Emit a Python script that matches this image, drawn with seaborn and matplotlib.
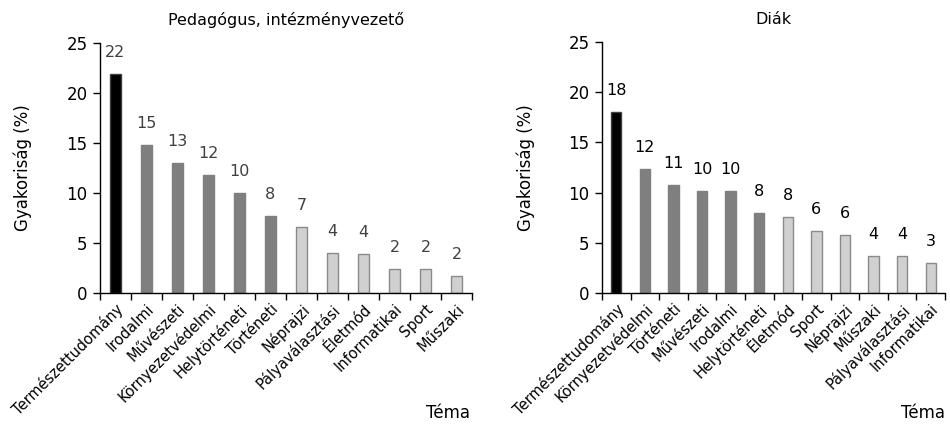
import matplotlib
matplotlib.use("Agg")
import matplotlib.pyplot as plt
import seaborn as sns
import pandas as pd
import numpy as np
from matplotlib.ticker import FixedLocator

sns.set_theme(style="white")
plt.rcParams["font.family"] = ["DejaVu Sans"]
plt.rcParams["text.color"] = "black"
plt.rcParams["axes.labelcolor"] = "black"
plt.rcParams["xtick.color"] = "black"
plt.rcParams["ytick.color"] = "black"

# Teacher / head-of-institution responses
ped_topics = ["Természettudomány", "Irodalmi", "Művészeti", "Környezetvédelmi",
              "Helytörténeti", "Történeti", "Néprajzi", "Pályaválasztási",
              "Életmód", "Informatikai", "Sport", "Műszaki"]
ped_values = [21.9, 14.8, 13.0, 11.8, 10.0, 7.7, 6.6, 4.0, 3.9, 2.4, 2.4, 1.7]
ped_labels = ["22", "15", "13", "12", "10", "8", "7", "4", "4", "2", "2", "2"]
ped_group = [0, 1, 1, 1, 1, 1, 2, 2, 2, 2, 2, 2]

# Student responses
diak_topics = ["Természettudomány", "Környezetvédelmi", "Történeti", "Művészeti",
               "Irodalmi", "Helytörténeti", "Életmód", "Sport", "Néprajzi",
               "Műszaki", "Pályaválasztási", "Informatikai"]
diak_values = [18.0, 12.4, 10.8, 10.2, 10.2, 8.0, 7.6, 6.2, 5.8, 3.7, 3.7, 3.0]
diak_labels = ["18", "12", "11", "10", "10", "8", "8", "6", "6", "4", "4", "3"]
diak_group = [0, 1, 1, 1, 1, 1, 2, 2, 2, 2, 2, 2]

fills = ["#000000", "#7f7f7f", "#d0d0d0"]
edges = ["#404040", "#7f7f7f", "#8a8a8a"]

W, H = 950, 424
fig = plt.figure(figsize=(W / 100, H / 100), dpi=100)


def panel(rect, topics, values, labels, groups, title, label_color, ylab_x, tema_x):
    ax = fig.add_axes(rect)
    df = pd.DataFrame({"topic": topics, "value": values})
    pal = [fills[g] for g in groups]
    sns.barplot(data=df, x="topic", y="value", hue="topic", palette=pal,
                legend=False, width=0.36, ax=ax, saturation=1)
    for patch, g in zip(ax.patches, groups):
        patch.set_edgecolor(edges[g])
        patch.set_linewidth(1.0)
    for i, (v, lab) in enumerate(zip(values, labels)):
        ax.annotate(lab, (i, v), xytext=(0, 10), textcoords="offset points",
                    ha="center", va="bottom", fontsize=11.5, color=label_color)
    ax.set_ylim(0, 25)
    ax.set_xlim(-0.5, len(topics) - 0.5)
    ax.set_yticks([0, 5, 10, 15, 20, 25])
    ax.tick_params(axis="y", labelsize=12, direction="out", length=5,
                   width=1, color="black", labelcolor="black", left=True, pad=4)
    ax.set_xticks(range(len(topics)))
    ax.set_xticklabels(topics, rotation=45, ha="right", rotation_mode="anchor",
                       fontsize=10.5, color="black")
    ax.tick_params(axis="x", which="major", length=0, pad=6)
    ax.xaxis.set_minor_locator(FixedLocator(np.arange(-0.5, len(topics), 1.0)))
    ax.tick_params(axis="x", which="minor", direction="out", length=5,
                   width=1, color="black", bottom=True)
    for s in ["top", "right"]:
        ax.spines[s].set_visible(False)
    for s in ["left", "bottom"]:
        ax.spines[s].set_color("black")
        ax.spines[s].set_linewidth(1)
    ax.set_xlabel("")
    ax.set_ylabel("Gyakoriság (%)", fontsize=12, color="black")
    ax.yaxis.set_label_coords(ylab_x, 0.5)
    ax.set_title(title, fontsize=11.5, pad=13, color="black")
    fig.text(tema_x / W, 1 - 413 / H, "Téma", ha="right", va="center",
             fontsize=12, color="black")
    return ax


panel([100 / W, 131 / H, 372 / W, 250 / H], ped_topics, ped_values, ped_labels,
      ped_group, "Pedagógus, intézményvezető", "#404040", -(100 - 32) / 372, 470)
panel([602 / W, 131 / H, 343 / W, 251 / H], diak_topics, diak_values, diak_labels,
      diak_group, "Diák", "#000000", -(602 - 535) / 343, 945)

fig.savefig("out.png", dpi=100, facecolor="white")
